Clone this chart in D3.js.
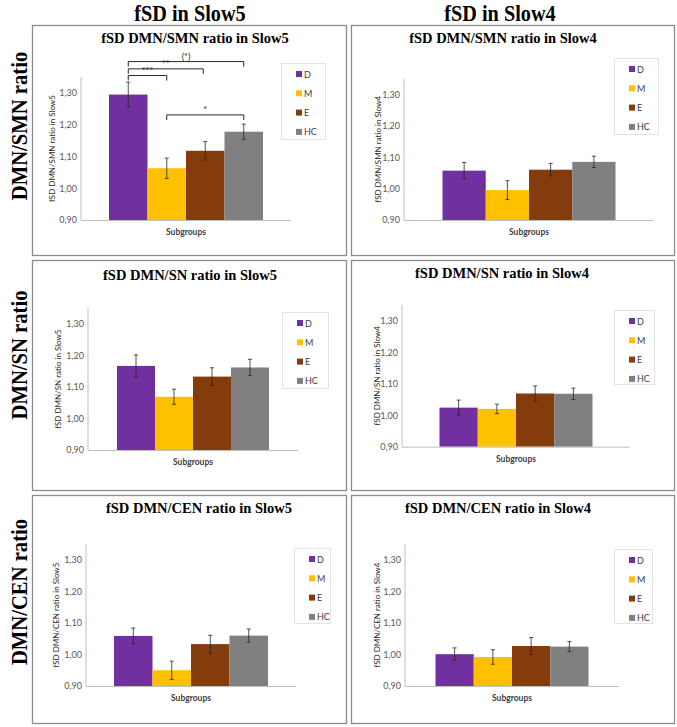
<!DOCTYPE html>
<html><head><meta charset="utf-8">
<script src="https://cdnjs.cloudflare.com/ajax/libs/d3/7.8.5/d3.min.js"></script>
<style>
html,body{margin:0;padding:0;background:#fff;}
svg{display:block;}
</style></head>
<body>
<svg id="chart" width="677" height="727"></svg>
<script>
// ---------- DATA ----------
const groups = ["D", "M", "E", "HC"];
const groupColors = ["#7030A0", "#FFC000", "#843C0C", "#808080"];
const columnTitles = ["fSD in Slow5", "fSD in Slow4"];
const rowTitles = ["DMN/SMN ratio", "DMN/SN ratio", "DMN/CEN ratio"];
const panelTitles = [
  "fSD DMN/SMN ratio in Slow5", "fSD DMN/SMN ratio in Slow4",
  "fSD DMN/SN ratio in Slow5", "fSD DMN/SN ratio in Slow4",
  "fSD DMN/CEN ratio in Slow5", "fSD DMN/CEN ratio in Slow4"
];
const yAxisTitles = panelTitles.slice();
const xCategory = "Subgroups";
const yTicks = [0.9, 1.0, 1.1, 1.2, 1.3];
const yTickLabels = ["0,90", "1,00", "1,10", "1,20", "1,30"];
const yMax = 1.35;

const meansSMN5 = [1.295, 1.063, 1.118, 1.178];
const errSMN5   = [0.039, 0.032, 0.029, 0.024];
const meansSMN4 = [1.057, 0.995, 1.060, 1.085];
const errSMN4   = [0.026, 0.030, 0.020, 0.018];
const meansSN5  = [1.167, 1.069, 1.133, 1.162];
const errSN5    = [0.035, 0.024, 0.028, 0.026];
const meansSN4  = [1.024, 1.020, 1.069, 1.068];
const errSN4    = [0.024, 0.015, 0.024, 0.018];
const meansCEN5 = [1.059, 0.950, 1.033, 1.060];
const errCEN5   = [0.025, 0.029, 0.028, 0.021];
const meansCEN4 = [1.001, 0.992, 1.027, 1.025];
const errCEN4   = [0.020, 0.023, 0.027, 0.016];

// significance brackets (first panel only)
const sigFrom  = ["D", "D", "D", "M"];
const sigTo    = ["HC", "E", "M", "HC"];
const sigLevel = [1.399, 1.376, 1.355, 1.231];
const sigLabel = ["(*)", "**", "***", "*"];

const panelMeans = [meansSMN5, meansSMN4, meansSN5, meansSN4, meansCEN5, meansCEN4];
const panelErrs  = [errSMN5, errSMN4, errSN5, errSN4, errCEN5, errCEN4];

// ---------- LAYOUT (positions only) ----------
const layout = [
  {box:[32,25,347,256],  x0:81,  x1:291, y0:220,   y1:93,    gw:154, leg:[281,63,44,76],  tx:195, ty:43,  yt:52},
  {box:[351,25,675,256], x0:404, x1:654, y0:220,   y1:94.3,  gw:173, leg:[614,58,44,76],  tx:503, ty:43,  yt:378},
  {box:[32,260,347,491], x0:88,  x1:298, y0:450,   y1:324,   gw:152, leg:[282,312,46,76], tx:190, ty:280, yt:58},
  {box:[351,260,675,491],x0:402, x1:630, y0:446.7, y1:320.7, gw:153, leg:[614,310,40,74], tx:502, ty:278, yt:377},
  {box:[32,495,347,724], x0:86,  x1:296, y0:686,   y1:560,   gw:154, leg:[294,548,36,75], tx:199, ty:513, yt:56},
  {box:[351,495,675,724],x0:405, x1:619, y0:686,   y1:560,   gw:153, leg:[614,549,38,74], tx:498, ty:513, yt:377}
];

const svg = d3.select("#chart");
const serif = "'Liberation Serif','Times New Roman',serif";
const sans = "Lato,'Open Sans',sans-serif";

// column titles
const colX = [190, 500];
columnTitles.forEach((t, i) => {
  svg.append("text").attr("transform", `translate(${colX[i]},21) scale(0.88,1)`)
    .attr("text-anchor", "middle").attr("font-family", serif)
    .attr("font-weight", "bold").attr("font-size", 23).attr("fill", "#000").text(t);
});
// row titles
const rowY = [126, 355, 592];
rowTitles.forEach((t, i) => {
  svg.append("text").attr("transform", `translate(27,${rowY[i]}) rotate(-90) scale(0.86,1)`)
    .attr("text-anchor", "middle").attr("font-family", serif)
    .attr("font-weight", "bold").attr("font-size", 24).attr("fill", "#000").text(t);
});

layout.forEach((L, p) => {
  const g = svg.append("g");
  const [bx0, by0, bx1, by1] = L.box;
  g.append("rect").attr("x", bx0 + 0.5).attr("y", by0 + 0.5)
    .attr("width", bx1 - bx0 - 1).attr("height", by1 - by0 - 1)
    .attr("fill", "#fff").attr("stroke", "#8c8c8c").attr("stroke-width", 1.3);

  g.append("text").attr("x", L.tx).attr("y", L.ty).attr("text-anchor", "middle")
    .attr("font-family", serif).attr("font-weight", "bold").attr("font-size", 14.5)
    .attr("fill", "#000").text(panelTitles[p]);

  const y = d3.scaleLinear().domain([0.9, 1.3]).range([L.y0, L.y1]);
  const pad = ((L.x1 - L.x0) / L.gw - 1) / 2;
  const xOuter = d3.scaleBand().domain([xCategory]).range([L.x0, L.x1]).paddingInner(0).paddingOuter(pad);
  const xInner = d3.scaleBand().domain(groups).range([0, xOuter.bandwidth()]).padding(0);
  const gx = xOuter(xCategory);

  // y axis
  const yAxis = d3.axisLeft(y).tickValues(yTicks).tickSize(0).tickPadding(4)
    .tickFormat((d, i) => yTickLabels[i]);
  const ya = g.append("g").attr("transform", `translate(${L.x0},0)`).call(yAxis);
  ya.select(".domain").remove();
  ya.selectAll("text").attr("font-family", sans).attr("font-size", 9).attr("fill", "#595959");
  g.append("line").attr("x1", L.x0).attr("x2", L.x0).attr("y1", y(yMax)).attr("y2", L.y0)
    .attr("stroke", "#bfbfbf").attr("stroke-width", 1);

  // bars
  const means = panelMeans[p], errs = panelErrs[p];
  g.selectAll("rect.bar").data(groups).join("rect").attr("class", "bar")
    .attr("x", d => gx + xInner(d)).attr("width", xInner.bandwidth())
    .attr("y", (d, i) => y(means[i])).attr("height", (d, i) => L.y0 - y(means[i]))
    .attr("fill", (d, i) => groupColors[i]);

  // x axis line
  g.append("line").attr("x1", L.x0).attr("x2", L.x1).attr("y1", L.y0 + 0.5).attr("y2", L.y0 + 0.5)
    .attr("stroke", "#bfbfbf").attr("stroke-width", 1);

  // error bars
  groups.forEach((d, i) => {
    const cx = gx + xInner(d) + xInner.bandwidth() / 2;
    const top = y(means[i] + errs[i]), bot = y(means[i] - errs[i]);
    g.append("line").attr("x1", cx).attr("x2", cx).attr("y1", top).attr("y2", bot)
      .attr("stroke", "#262626").attr("stroke-width", 0.8);
    [top, bot].forEach(yy => g.append("line").attr("x1", cx - 2).attr("x2", cx + 2)
      .attr("y1", yy).attr("y2", yy).attr("stroke", "#262626").attr("stroke-width", 0.8));
  });

  // x category label
  g.append("text").attr("x", (L.x0 + L.x1) / 2).attr("y", L.y0 + 15)
    .attr("text-anchor", "middle").attr("font-family", sans).attr("font-weight", "bold")
    .attr("font-size", 8.5).attr("fill", "#404040").text(xCategory);

  // y axis title
  g.append("text").attr("transform", `translate(${L.yt},${(y(yMax) + L.y0) / 2}) rotate(-90)`)
    .attr("text-anchor", "middle").attr("dominant-baseline", "central")
    .attr("font-family", sans).attr("font-size", 8).attr("fill", "#262626").text(yAxisTitles[p]);

  // legend
  const [lx, ly, lw, lh] = L.leg;
  g.append("rect").attr("x", lx + 0.5).attr("y", ly + 0.5).attr("width", lw).attr("height", lh)
    .attr("fill", "#fff").attr("stroke", "#e3e3e3").attr("stroke-width", 1);
  groups.forEach((d, i) => {
    const cy = ly + 11 + i * 19.3;
    g.append("rect").attr("x", lx + 15).attr("y", cy - 3).attr("width", 6).attr("height", 6)
      .attr("fill", groupColors[i]);
    g.append("text").attr("x", lx + 23).attr("y", cy).attr("dominant-baseline", "central")
      .attr("font-family", sans).attr("font-size", 9).attr("fill", "#404040").text(d);
  });

  // significance brackets (first panel)
  if (p === 0) {
    const cxOf = k => gx + xInner(k) + xInner.bandwidth() / 2;
    sigFrom.forEach((f, k) => {
      const xa = cxOf(f), xb = cxOf(sigTo[k]) - (k === 1 ? 2 : 0), yy = y(sigLevel[k]);
      g.append("path").attr("d", `M${xa},${yy + 5}V${yy}H${xb}V${yy + 5}`)
        .attr("fill", "none").attr("stroke", "#262626").attr("stroke-width", 1);
      g.append("text").attr("x", (xa + xb) / 2).attr("y", yy - 2).attr("text-anchor", "middle")
        .attr("font-family", sans).attr("font-size", 9).attr("fill", "#262626").text(sigLabel[k]);
    });
  }
});
</script>
</body></html>
